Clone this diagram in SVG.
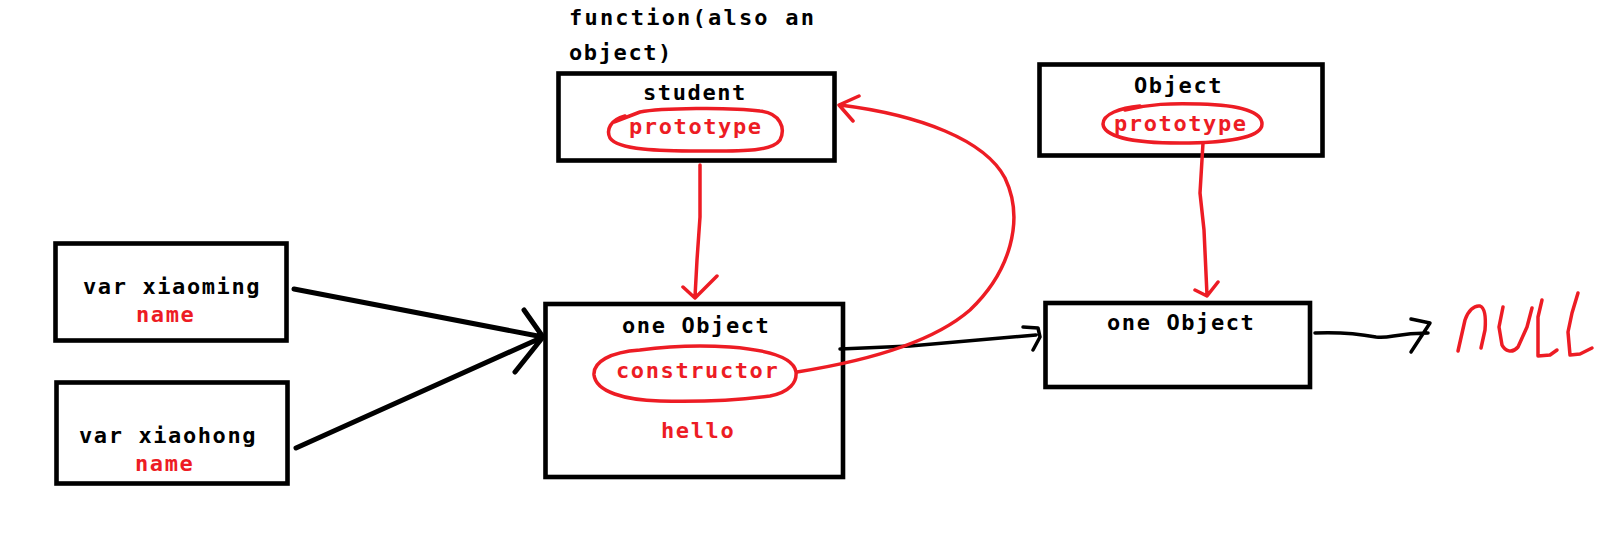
<svg xmlns="http://www.w3.org/2000/svg" width="1615" height="536" viewBox="0 0 1615 536">
<style>
.box{fill:none;stroke:#000;stroke-width:4.6}
.t{font-family:"DejaVu Sans Mono","Liberation Mono",monospace;font-size:22px;font-weight:bold;letter-spacing:1.6px;fill:#000}
.r{fill:#ED1C24}
.red{fill:none;stroke:#ED1C24;stroke-width:3.5;stroke-linecap:round;stroke-linejoin:round}
.blk{fill:none;stroke:#000;stroke-width:3.5;stroke-linecap:round;stroke-linejoin:round}
.blk5{fill:none;stroke:#000;stroke-width:5;stroke-linecap:round;stroke-linejoin:round}
</style>
<rect width="1615" height="536" fill="#fff"/>
<g id="label-function">
<text class="t" x="569" y="25" style="letter-spacing:2.2px">function(also an</text>
<text class="t" x="569" y="60">object)</text>
</g>
<g id="node-student">
<rect class="box" x="558.5" y="73.5" width="276" height="87"/>
<text class="t" x="643" y="100">student</text>
<path class="red" d="M625 116 C610 120,606 130,610 138 C618 150,660 151,700 151 C740 151,772 152,780 140 C786 128,780 113,760 111 C730 107,660 108,640 112 L614 122"/>
<text class="t r" x="629" y="134">prototype</text>
</g>
<g id="node-Object">
<rect class="box" x="1039.5" y="64.5" width="283" height="91"/>
<text class="t" x="1134" y="93">Object</text>
<path class="red" d="M1140 106 C1120 108,1103 114,1103 124 C1104 136,1130 143,1180 143 C1225 143,1262 138,1262 124 C1262 112,1240 105,1200 104 C1170 103,1150 104,1125 110"/>
<text class="t r" x="1114" y="131">prototype</text>
</g>
<g id="node-xiaoming">
<rect class="box" x="55.5" y="243.5" width="231" height="97"/>
<text class="t" x="83" y="294">var xiaoming</text>
<text class="t r" x="136" y="322">name</text>
</g>
<g id="node-xiaohong">
<rect class="box" x="56.5" y="382.5" width="231" height="101"/>
<text class="t" x="79" y="443">var xiaohong</text>
<text class="t r" x="135" y="471">name</text>
</g>
<g id="node-one-object-1">
<rect class="box" x="545.5" y="304" width="297.5" height="173"/>
<text class="t" x="622" y="333">one Object</text>
<path class="red" d="M640 350 C610 352,593 362,594 375 C596 392,625 400,660 401 C700 402,740 400,770 396 C790 392,797 382,796 372 C794 358,770 350,730 347 C700 345,670 346,640 350"/>
<text class="t r" x="616" y="378">constructor</text>
<text class="t r" x="661" y="438">hello</text>
</g>
<g id="node-one-object-2">
<rect class="box" x="1045.5" y="303" width="264.5" height="84"/>
<text class="t" x="1107" y="330">one Object</text>
</g>
<g id="node-null">
<path class="red" d="M1458 351 L1465 320 C1468 311,1474 305,1480 306 C1485 308,1486 318,1485 330 L1481 348"/>
<path class="red" d="M1503 307 L1499 327 L1502 345 C1505 351,1512 354,1518 347 L1527 327 L1532 308"/>
<path class="red" d="M1542 300 L1538 317 L1538 356 L1550 355 L1557 350"/>
<path class="red" d="M1578 293 L1572 313 L1568 332 L1570 355 L1580 354 L1592 348"/>
</g>
<g id="connectors">
<path class="blk5" d="M294 289 L543 337 M296 448 L543 337 M524 310 L543 337 L515 372"/>
<path class="red" d="M700 165 L700 217 L697 260 L695 297 M683 287 L695 298 L717 276"/>
<path class="red" d="M1203 143 L1200 193 L1204 230 L1207 295 M1195 290 L1207 296 L1218 282"/>
<path class="blk" d="M840 349 L910 346 L1036 335 M1023 327 L1038 328 L1040 337 L1033 350"/>
<path class="red" d="M797 372 C860 362,930 345,970 310 C1010 272,1025 220,1005 178 C985 140,920 115,840 105 M859 96 L839 105 L853 121"/>
<path class="blk" d="M1315 333 C1340 332,1360 334,1376 337 C1390 339,1395 333,1428 333 M1411 319 L1430 323 L1411 352"/>
</g>
</svg>
